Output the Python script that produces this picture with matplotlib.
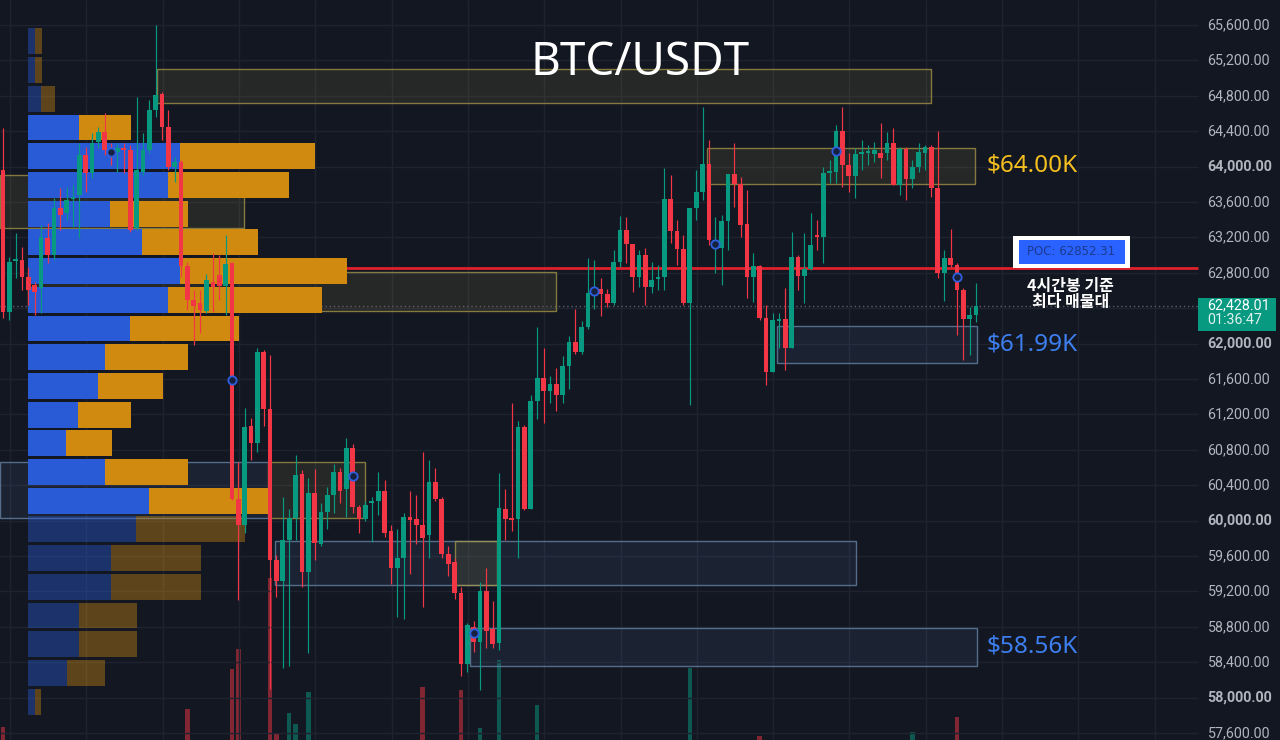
import matplotlib
matplotlib.use("Agg")
import numpy as np
import matplotlib.pyplot as plt
from matplotlib.patches import Rectangle
from matplotlib.colors import to_rgba

# -------------------------
# 4h candles (oldest first)
# -------------------------
opens = [63962, 62357, 62934, 62945, 62753, 62662, 62629, 63194, 63001, 63533,
         63476, 63634, 63679, 64131, 63928, 64278, 64391, 64211, 64165, 64211,
         64188, 63307, 63939, 64188, 64640, 64821, 64448, 63996, 64052, 62877,
         62493, 62459, 62369, 62696, 62775, 62651, 62911, 60244, 59950, 61069,
         60877, 61905, 61261, 59555, 59318, 59781, 60030, 60527, 59419, 60312,
         59736, 60097, 60289, 60549, 60357, 60821, 60154, 60018, 60199, 60222,
         60335, 59883, 59465, 59578, 60041, 60018, 59950, 59837, 60436, 60244,
         59623, 59532, 59182, 58380, 58798, 58628, 59205, 58775, 58617, 60131,
         60030, 60018, 61058, 60131, 61352, 61612, 61465, 61544, 61419, 61747,
         62018, 61905, 62188, 62572, 62617, 62561, 62459, 62922, 63284, 63126,
         62753, 63001, 62640, 62730, 62753, 63634, 63273, 63069, 62459, 63533,
         63713, 64030, 63114, 63081, 63386, 63917, 63804, 63352, 62753, 62877,
         62290, 61679, 62256, 62278, 61951, 62979, 62764, 62843, 63227, 63205,
         63928, 63939, 64403, 64018, 63894, 64143, 64154, 64143, 64154, 64154,
         64267, 63792, 64199, 63860, 63996, 64154, 64222, 63759, 62798, 62968,
         62888, 62606, 62278, 62323]
highs = [64437, 62979, 63250, 63092, 62866, 62696, 63340, 63363, 63646, 63759,
         63770, 63792, 64267, 64222, 64380, 64448, 64606, 64267, 64267, 64267,
         64244, 64787, 64380, 64753, 65600, 64843, 64640, 64109, 64075, 62922,
         62606, 62606, 62787, 63024, 63001, 63227, 62922, 60662, 61273, 61160,
         61951, 61928, 61871, 59611, 60267, 60131, 60741, 60572, 60482, 60583,
         60199, 60380, 60640, 60595, 60934, 60866, 60176, 60222, 60267, 60549,
         60459, 59950, 59905, 60086, 60335, 60289, 60775, 60685, 60595, 60267,
         59713, 59578, 59250, 58843, 58866, 59306, 59465, 59092, 60538, 60357,
         61329, 61126, 61080, 61419, 62188, 61951, 61634, 61725, 61860, 62086,
         62391, 62256, 62968, 62945, 62742, 62617, 63058, 63442, 63431, 63126,
         63058, 63081, 62922, 62888, 63985, 63905, 63397, 63227, 63533, 63962,
         64674, 64301, 63431, 63453, 63510, 64267, 63883, 63736, 63024, 62888,
         62436, 62346, 62346, 62629, 63261, 63001, 63250, 63476, 63397, 63996,
         64075, 64470, 64674, 64154, 64211, 64301, 64244, 64278, 64493, 64391,
         64437, 64222, 64222, 64075, 64267, 64244, 64244, 64403, 63058, 63295,
         62911, 62629, 62414, 62685]
lows = [62290, 62267, 62742, 62606, 62436, 62323, 62346, 62911, 62945, 63284,
        63397, 63318, 63194, 63713, 63872, 64211, 64131, 64018, 63939, 63928,
        63261, 63284, 63905, 64154, 64561, 64301, 63962, 63826, 62753, 62380,
        61984, 62120, 62346, 62357, 62493, 62323, 60233, 59103, 59860, 60685,
        60775, 61069, 58097, 59137, 58335, 58357, 59781, 59250, 58504, 59555,
        59713, 59905, 60086, 60199, 60041, 60086, 59860, 59996, 59758, 60063,
        59815, 59284, 58911, 58888, 59397, 59736, 59024, 59578, 60222, 59578,
        59374, 59114, 58244, 58289, 58515, 58086, 58561, 58561, 58538, 59781,
        59883, 59578, 60120, 60131, 61148, 61103, 61329, 61239, 61329, 61487,
        61883, 61883, 62165, 62391, 62312, 62414, 62436, 62866, 62911, 62583,
        62640, 62436, 62572, 62606, 62606, 63137, 62888, 62436, 61306, 63397,
        63623, 63114, 62798, 62662, 63058, 63544, 63205, 62516, 62470, 62267,
        61532, 61679, 61951, 61702, 61951, 62606, 62459, 62832, 63058, 62911,
        63815, 63815, 63770, 63713, 63646, 63962, 64018, 64052, 63872, 64075,
        63792, 63679, 63623, 63759, 63939, 63962, 63657, 62742, 62482, 62866,
        62097, 61815, 61871, 62244]
closes = [62357, 62922, 62956, 62753, 62606, 62583, 63205, 63001, 63533, 63453,
          63623, 63657, 64131, 63928, 64267, 64391, 64188, 64154, 64211, 64188,
          63284, 63962, 64188, 64640, 64809, 64448, 63996, 64052, 62877, 62493,
          62425, 62380, 62719, 62640, 62651, 62900, 60244, 59950, 61058, 60877,
          61905, 61261, 59555, 59318, 59781, 60030, 60515, 59419, 60312, 59747,
          60097, 60289, 60549, 60335, 60821, 60154, 60018, 60176, 60222, 60335,
          59860, 59465, 59578, 60041, 60007, 59950, 59804, 60436, 60244, 59623,
          59510, 59182, 58380, 58820, 58628, 59205, 58753, 58606, 60143, 60018,
          60007, 61058, 60131, 61352, 61612, 61465, 61544, 61419, 61747, 62018,
          61905, 62188, 62572, 62606, 62561, 62459, 62922, 63284, 63126, 62753,
          63001, 62640, 62719, 62753, 63634, 63273, 63069, 62459, 63533, 63713,
          64030, 63171, 63171, 63386, 63917, 63804, 63340, 62753, 62877, 62290,
          61679, 62267, 62278, 61951, 62979, 62764, 62843, 63114, 63205, 63928,
          63951, 64403, 64018, 63894, 64143, 64154, 64165, 64188, 64098, 64267,
          63792, 64199, 63860, 63996, 64165, 64222, 63759, 62798, 62968, 62888,
          62606, 62278, 62323, 62428.01]
volumes = [730, 420, 310, 350, 380, 330, 450, 360, 470, 380,
           340, 300, 520, 410, 440, 390, 430, 350, 290, 310,
           500, 560, 380, 450, 580, 520, 470, 330, 590, 910,
           520, 430, 400, 360, 320, 420, 1310, 1510, 580, 470,
           540, 490, 2220, 670, 590, 870, 760, 560, 1080, 520,
           440, 380, 430, 360, 470, 450, 360, 300, 340, 380,
           460, 520, 480, 500, 410, 330, 1130, 540, 390, 450,
           360, 430, 1100, 560, 420, 720, 520, 440, 1400, 480,
           530, 570, 460, 560, 950, 480, 330, 360, 410, 440,
           420, 380, 560, 400, 350, 290, 470, 540, 430, 460,
           380, 420, 300, 270, 590, 480, 390, 470, 1320, 490,
           580, 540, 430, 410, 520, 440, 410, 500, 380, 640,
           590, 520, 310, 450, 570, 380, 420, 400, 310, 560,
           290, 480, 520, 380, 410, 260, 230, 250, 340, 300,
           420, 390, 370, 680, 330, 280, 430, 590, 460, 380,
           830, 560, 410, 300]

price_ticks = list(range(57600, 65601, 400))
last_price = 62428.01
countdown = "01:36:47"

# volume profile rows, bottom -> top
profile_low = 57792
profile_step = 324.4
buy_vol = [7, 39, 51, 51, 83, 83, 108, 121, 77, 38, 50, 70, 77, 102,
           140, 152, 114, 82, 140, 152, 51, 13, 7, 7]
sell_vol = [6, 38, 58, 58, 90, 90, 109, 119, 83, 46, 53, 65, 83, 109,
            154, 167, 116, 78, 121, 135, 52, 14, 7, 7]
va_first, va_last = 7, 20
poc_price = 62852.31

# zones: start candle, end candle, low, high, colour kind
zone_start = [-0.5, 3.9, 24.2, 110.7, -0.5, 41.7, 42.8, 71.1, 73.4, 121.7]
zone_end = [37.9, 87.0, 145.9, 152.8, 42.0, 56.9, 134.1, 77.7, 153.1, 153.1]
zone_low = [63307, 62369, 64719, 63804, 60030, 60030, 59272, 59272, 58357, 61781]
zone_high = [63905, 62809, 65103, 64211, 60662, 60662, 59770, 59770, 58787, 62199]
zone_kind = ['y', 'y', 'y', 'y', 'b', 'y', 'b', 'y', 'b', 'b']
zone_labels = {3: "$64.00K", 9: "$61.99K", 8: "$58.56K"}

# pivot markers
marker_idx = [17, 36, 55, 74, 93, 112, 131, 150]
marker_price = [64165, 61589, 60504, 58730, 62595, 63126, 64177, 62753]

# -------------------------
# Style
# -------------------------
BG = '#131722'
GRID = '#1f2330'
UP = '#089981'
DOWN = '#f23645'
BLUE = '#2a5bd7'
ORANGE = '#d08a10'
AXIS_TXT = '#b2b5be'

x_lo, x_hi = -0.47, 200.8
y_lo, y_hi = 57521, 65883
chart_right = 187.9      # where the price scale starts
label_x = 189.4
profile_left = 3.93
profile_len = 50.2

fig = plt.figure(figsize=(12.8, 7.4), dpi=100, facecolor=BG)
axv = fig.add_axes([0, 0, 1, 1])
ax = fig.add_axes([0, 0, 1, 1])
axv.set_facecolor(BG)
ax.patch.set_visible(False)
for a in (ax, axv):
    a.set_xlim(x_lo, x_hi)
    a.set_axis_off()
ax.set_ylim(y_lo, y_hi)
axv.set_ylim(600, 8000)

n = len(opens)
idx = np.arange(n)
o = np.array(opens, float)
c = np.array(closes, float)
up = c >= o
cols = np.where(up, UP, DOWN)

# grid
ax.hlines(price_ticks, x_lo, chart_right, color=GRID, lw=1, zorder=0)
for gx in np.arange(1.1, chart_right - 2, 12):
    ax.vlines(gx, y_lo, y_hi, color=GRID, lw=1, zorder=0)

# volume bars
axv.bar(idx, volumes, width=0.72, color=cols, alpha=0.5, zorder=1)

# zones
for s, e, lo, hi, k in zip(zone_start, zone_end, zone_low, zone_high, zone_kind):
    if k == 'y':
        fc, ec = to_rgba('#a89a4a', 0.13), to_rgba('#a89a4a', 0.75)
    else:
        fc, ec = to_rgba('#4f6f96', 0.14), to_rgba('#6482a3', 0.8)
    ax.add_patch(Rectangle((s, lo), e - s, hi - lo, facecolor=fc,
                           edgecolor=ec, lw=1, zorder=1))

# POC line and last price line
ax.hlines(poc_price, profile_left, chart_right, color='#e0202c', lw=2, zorder=2)
ax.hlines(last_price, x_lo, chart_right, color='#5d606b', lw=1,
          linestyles=(0, (1, 2)), zorder=2)

# volume profile
scale = profile_len / max(b + s for b, s in zip(buy_vol, sell_vol))
mids = [profile_low + (i + 0.5) * profile_step for i in range(len(buy_vol))]
alphas = [1.0 if va_first <= i <= va_last else 0.4 for i in range(len(buy_vol))]
bw = [b * scale for b in buy_vol]
sw = [s * scale for s in sell_vol]
ax.barh(mids, bw, left=profile_left, height=profile_step * 0.9,
        color=[to_rgba(BLUE, a) for a in alphas], zorder=3)
ax.barh(mids, sw, left=[profile_left + b for b in bw], height=profile_step * 0.9,
        color=[to_rgba(ORANGE, a) for a in alphas], zorder=3)

# candles
ax.vlines(idx, lows, highs, colors=cols, lw=0.85, zorder=4)
body = np.maximum(np.abs(c - o), 18)
ax.bar(idx, body, bottom=np.minimum(o, c), width=0.74, color=cols, zorder=5)

ax.plot(marker_idx, marker_price, 'o', ms=6, mfc='#16203f', mec='#2f5fe0',
        mew=1.3, zorder=6)

# zone labels
for zi, txt in zone_labels.items():
    colr = '#f5bf1f' if zone_kind[zi] == 'y' else '#3d7ff0'
    ax.text(154.7, (zone_low[zi] + zone_high[zi]) / 2, txt, color=colr,
            fontsize=17.5, family='Noto Sans', ha='left', va='center', zorder=7)

# POC label
ax.add_patch(Rectangle((158.8, 62855), 18.4, 361, facecolor='white', zorder=7))
ax.add_patch(Rectangle((159.7, 62902), 16.7, 269, facecolor='#2962ff', zorder=8))
ax.text(168.0, 63036, f"POC: {poc_price:.2f}", color='#1d3a8f', fontsize=8.5,
        ha='center', va='center', zorder=9)
ax.text(167.9, 62560, "4시간봉 기준\n최다 매물대", color='white', fontsize=11.5,
        family=['Noto Sans CJK KR', 'DejaVu Sans'], ha='center', va='center',
        linespacing=1.0, fontweight='bold', zorder=9)

# price scale (the label under the last-price tag is hidden by it)
for p in price_ticks:
    if abs(p - last_price) < 200:
        continue
    ax.text(label_x, p, f"{p:,.2f}", color=AXIS_TXT, fontsize=10.3, family='Roboto',
            fontweight='bold' if p % 2000 == 0 else 'normal', ha='left', va='center')

ax.add_patch(Rectangle((chart_right, 62143), 12.3, 373, facecolor=UP, zorder=7))
ax.text(label_x, 62430, f"{last_price:,.2f}", color='white', fontsize=10.3,
        family='Roboto', ha='left', va='center', zorder=8)
ax.text(label_x, 62262, countdown, color='#e0f2ee', fontsize=10.3,
        family='Roboto', ha='left', va='center', zorder=8)

# title
ax.text(0.5, 1 - 63 / 740, "BTC/USDT", transform=ax.transAxes, color='white',
        fontsize=33, family='Noto Sans', ha='center', va='center', zorder=9)

fig.savefig("out.png", dpi=100, facecolor=BG)
